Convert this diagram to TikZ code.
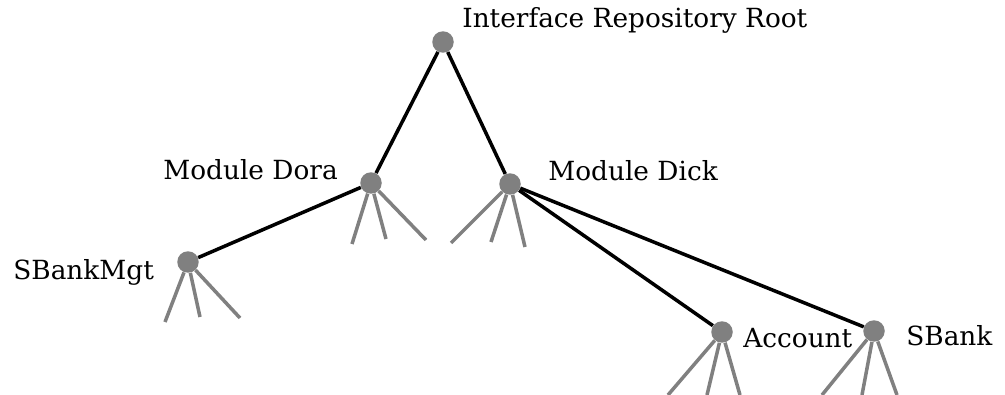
\documentclass[tikz,border=0pt]{standalone}
\usepackage{fontspec}
\setmainfont{DejaVu Serif}
\tikzset{
  dot/.style={circle, fill=gray, inner sep=0pt, minimum size=0.43cm},
  link/.style={black, line width=2pt},
  stub/.style={gray, line width=2pt},
  lbl/.style={anchor=base west, inner sep=0pt, font=\fontsize{15}{18}\selectfont}
}
\begin{document}
\begin{tikzpicture}[x=0.02cm, y=-0.02cm]
    \useasboundingbox (0, 0) rectangle (1005, 395);

    % Nodi
    \node[dot] (root) at (443, 42) {};
    \node[dot] (dora) at (371, 183) {};
    \node[dot] (dick) at (510, 184) {};
    \node[dot] (mgt) at (188, 262) {};
    \node[dot] (acct) at (722, 332) {};
    \node[dot] (sbank) at (874, 331) {};

    % Etichette
    \node[lbl] (rootlbl) at (462, 28) {Interface Repository Root};
    \node[lbl] (doralbl) at (163, 180) {Module Dora};
    \node[lbl] (dicklbl) at (548, 181) {Module Dick};
    \node[lbl] (mgtlbl) at (13, 279) {SBankMgt};
    \node[lbl] (acctlbl) at (743, 347) {Account};
    \node[lbl] (sbanklbl) at (906, 345) {SBank};

    % Archi
    \draw[link] (root) -- (dora);
    \draw[link] (root) -- (dick);
    \draw[link] (dora) -- (mgt);
    \draw[link] (dick) -- (acct);
    \draw[link] (dick) -- (sbank);

    % Rami grigi
    \coordinate (d1) at (352, 244);
    \coordinate (d2) at (386, 239);
    \coordinate (d3) at (426, 240);
    \coordinate (k1) at (451, 243);
    \coordinate (k2) at (491, 242);
    \coordinate (k3) at (525, 247);
    \coordinate (m1) at (165, 322);
    \coordinate (m2) at (200, 317);
    \coordinate (m3) at (240, 318);
    \coordinate (a1) at (668, 395);
    \coordinate (a2) at (707, 395);
    \coordinate (a3) at (740, 395);
    \coordinate (s1) at (822, 395);
    \coordinate (s2) at (862, 395);
    \coordinate (s3) at (897, 395);
    \foreach \n/\e in {dora/d1, dora/d2, dora/d3, dick/k1, dick/k2, dick/k3,
                       mgt/m1, mgt/m2, mgt/m3, acct/a1, acct/a2, acct/a3,
                       sbank/s1, sbank/s2, sbank/s3}
        \draw[stub] (\n) -- (\e);

\end{tikzpicture}
\end{document}
